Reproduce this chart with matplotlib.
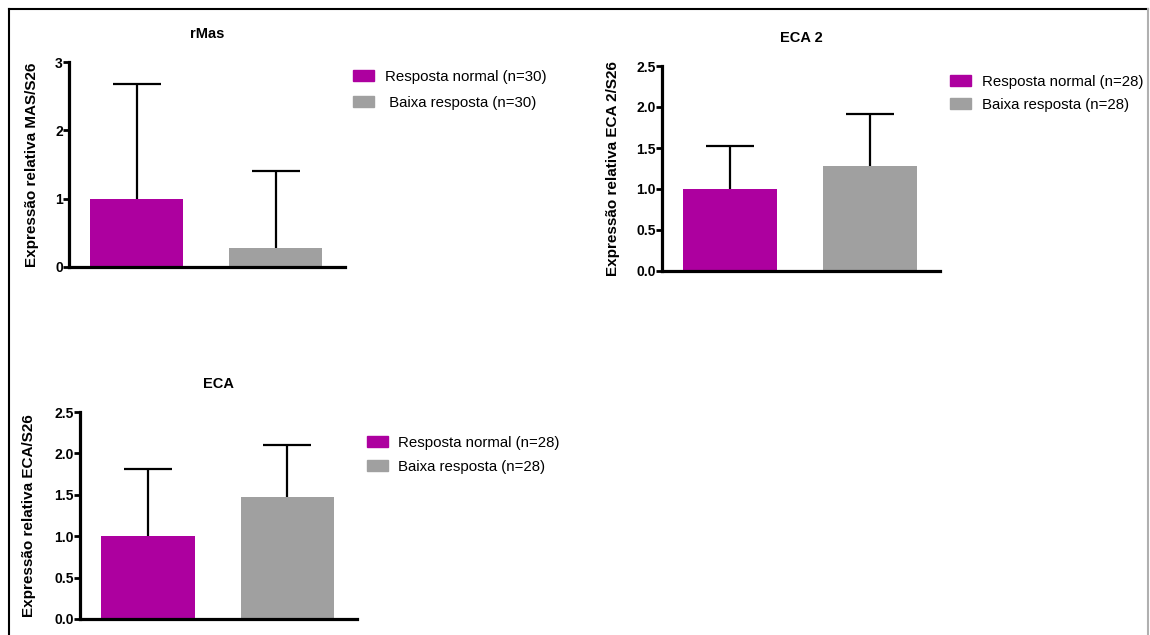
import matplotlib
matplotlib.use('Agg')
import matplotlib.pyplot as plt
from matplotlib.patches import Patch
from matplotlib.lines import Line2D

plt.rcParams['font.family'] = ['Liberation Sans', 'DejaVu Sans']

PURPLE = '#ad009f'
GRAY = '#a0a0a0'

# rMas
rmas_mean = [1.0, 0.28]
rmas_sd = [1.68, 1.13]
rmas_labels = ['Resposta normal (n=30)', ' Baixa resposta (n=30)']

# ECA 2
eca2_mean = [1.0, 1.28]
eca2_sd = [0.52, 0.63]
eca2_labels = ['Resposta normal (n=28)', 'Baixa resposta (n=28)']

# ECA
eca_mean = [1.0, 1.47]
eca_sd = [0.81, 0.63]
eca_labels = ['Resposta normal (n=28)', 'Baixa resposta (n=28)']

W, H = 1150, 635


def px_rect(left, right, top, bottom):
    return [left / W, 1 - bottom / H, (right - left) / W, (bottom - top) / H]


def panel(fig, rect, title, ylabel, means, sds, ylim, yticks, yticklabels,
          labels, leg_xy, spacing, label_x):
    ax = fig.add_axes(rect)
    x = [0, 1]
    _, caps, _ = ax.errorbar(x, means, yerr=[[0, 0], sds], fmt='none',
                             ecolor='black', elinewidth=1.6, capsize=17,
                             capthick=1.6, zorder=1)
    # only the upper cap is shown
    caps[0].set_visible(False)
    ax.bar(x, means, width=0.67, color=[PURPLE, GRAY], zorder=2)
    ax.set_xlim(-0.486, 1.5)
    ax.set_ylim(*ylim)
    ax.set_yticks(yticks)
    ax.set_yticklabels(yticklabels, fontweight='bold', fontsize=10)
    ax.set_xticks([])
    for s in ['top', 'right']:
        ax.spines[s].set_visible(False)
    for s in ['left', 'bottom']:
        ax.spines[s].set_linewidth(2.3)
    ax.tick_params(axis='y', length=4, width=2, pad=0.5)
    ax.set_title(title, fontweight='bold', fontsize=10.5, pad=17)
    ax.set_ylabel(ylabel, fontweight='bold', fontsize=11)
    ax.yaxis.set_label_coords(label_x, 0.5)

    handles = [Patch(color=PURPLE), Patch(color=GRAY)]
    fig.legend(handles, labels, loc='upper left',
               bbox_to_anchor=(leg_xy[0] / W, 1 - leg_xy[1] / H),
               frameon=False, fontsize=10.8, handlelength=1.4,
               handleheight=0.75, handletextpad=0.7, labelspacing=spacing,
               borderpad=0, borderaxespad=0)
    return ax


fig = plt.figure(figsize=(11.5, 6.35), dpi=100)

panel(fig, px_rect(69, 345, 62, 267), 'rMas', 'Expressão relativa MAS/S26',
      rmas_mean, rmas_sd, (0, 3), [0, 1, 2, 3], ['0', '1', '2', '3'],
      rmas_labels, (353, 70), 0.8, -0.11)

panel(fig, px_rect(662, 940, 66, 271), 'ECA 2', 'Expressão relativa ECA 2/S26',
      eca2_mean, eca2_sd, (0, 2.5), [0, 0.5, 1, 1.5, 2, 2.5],
      ['0.0', '0.5', '1.0', '1.5', '2.0', '2.5'],
      eca2_labels, (950, 75), 0.58, -0.15)

panel(fig, px_rect(80, 357, 412, 619), 'ECA', 'Expressão relativa ECA/S26',
      eca_mean, eca_sd, (0, 2.5), [0, 0.5, 1, 1.5, 2, 2.5],
      ['0.0', '0.5', '1.0', '1.5', '2.0', '2.5'],
      eca_labels, (367, 436), 0.66, -0.16)

# outer frame
fig.add_artist(Line2D([9 / W, 9 / W], [1 - 9 / H, 0], transform=fig.transFigure,
                      color='black', linewidth=1.5))
fig.add_artist(Line2D([9 / W, 1148 / W], [1 - 9 / H, 1 - 9 / H],
                      transform=fig.transFigure, color='black', linewidth=1.5))
fig.add_artist(Line2D([1148 / W, 1148 / W], [1 - 9 / H, 0],
                      transform=fig.transFigure, color='#b0b0b0', linewidth=1.5))

fig.savefig('out.png', dpi=100)
